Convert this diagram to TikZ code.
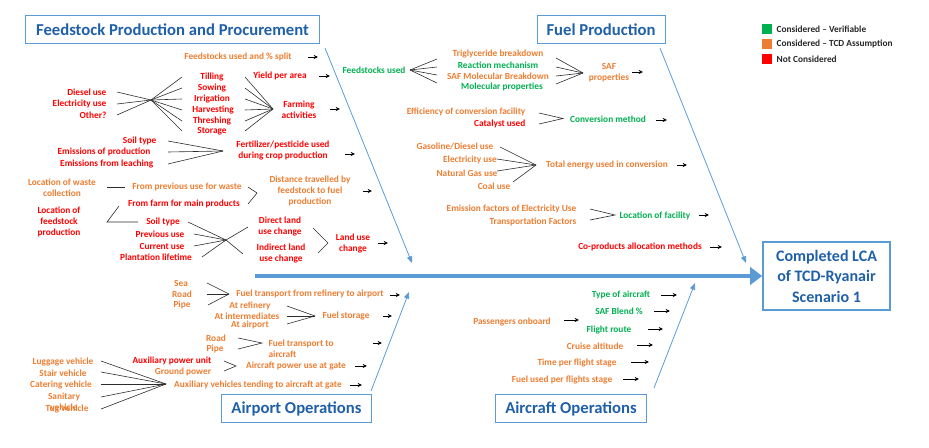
\documentclass[tikz,border=0pt]{standalone}
\usepackage{fontspec}
\setmainfont{Carlito}
\usetikzlibrary{arrows.meta}
\definecolor{cGreen}{RGB}{0,176,80}
\definecolor{cOrange}{RGB}{237,125,49}
\definecolor{cRed}{RGB}{255,0,0}
\definecolor{cTitle}{RGB}{31,96,168}
\definecolor{cFrame}{RGB}{91,155,213}
\definecolor{cFan}{RGB}{45,45,45}
\definecolor{cLegend}{RGB}{38,38,38}
\begin{document}
\begin{tikzpicture}[x=0.75pt,y=-0.75pt,
  lab/.style={font=\fontsize{7}{8.3}\selectfont\bfseries, align=center, inner sep=1pt},
  og/.style={lab,text=cOrange},
  gn/.style={lab,text=cGreen},
  rd/.style={lab,text=cRed},
  titlebox/.style={draw=cFrame, line width=0.7pt, text=cTitle, inner sep=0pt,
    font=\fontsize{12.5}{14}\selectfont\bfseries, minimum height=20.5pt},
  fan/.style={draw=cFan, line width=0.45pt},
  oarrow/.style={draw=black, line width=0.6pt, -{Stealth[length=3.2pt,width=3pt]}},
  bone/.style={draw=cFrame, line width=0.6pt, -{Triangle[length=5pt,width=4pt]}},
  spine/.style={draw=cFrame, line width=3pt, -{Triangle[length=9pt,width=13pt]}},
  legsq/.style={minimum size=7.5pt, inner sep=0pt}
]
\useasboundingbox (0,0) rectangle (929,447);

% ---------- category boxes ----------
\node[titlebox, minimum width=221pt] (tFeed) at (172.5,29.5) {Feedstock Production and Procurement};
\node[titlebox, minimum width=96pt] (tFuel) at (601,29.5) {Fuel Production};
\node[titlebox, minimum width=113pt, minimum height=21pt] (tAirport) at (296.5,408.5) {Airport Operations};
\node[titlebox, minimum width=113pt, minimum height=21pt] (tAircraft) at (571,408.5) {Aircraft Operations};
\node[draw=cFrame, line width=1.5pt, text=cTitle, align=center, inner sep=0pt,
  minimum width=95pt, minimum height=51pt,
  font=\fontsize{12}{15.4}\selectfont\bfseries] (lca) at (826.5,276) {Completed LCA\\of TCD-Ryanair\\Scenario 1};

% ---------- legend ----------
\node[legsq, fill=cGreen] (lg1) at (767,29) {};
\node[legsq, fill=cOrange] (lg2) at (767,44) {};
\node[legsq, fill=cRed] (lg3) at (767,59) {};
\node[lab, text=cLegend, anchor=west] (lt1) at (775,29) {Considered -- Verifiable};
\node[lab, text=cLegend, anchor=west] (lt2) at (775,44) {Considered -- TCD Assumption};
\node[lab, text=cLegend, anchor=west] (lt3) at (775,59) {Not Considered};

% ---------- bones ----------
\coordinate (b1s) at (325,48);  \coordinate (b1e) at (412,263);
\coordinate (b2s) at (660,48);  \coordinate (b2e) at (746,263);
\coordinate (b3s) at (371,391); \coordinate (b3e) at (409,292);
\coordinate (b4s) at (654,388); \coordinate (b4e) at (695,283);
\draw[bone] (b1s) -- (b1e);
\draw[bone] (b2s) -- (b2e);
\draw[bone] (b3s) -- (b3e);
\draw[bone] (b4s) -- (b4e);
\coordinate (spineStart) at (255,276);
\draw[spine] (spineStart) -- (lca.west);

% ---------- feedstock production and procurement ----------
\node[og] (feedsplit) at (238,57) {Feedstocks used and \% split};
\node[rd] (yield) at (280,76) {Yield per area};
\node[rd, anchor=east] (diesel) at (108,92) {Diesel use};
\node[rd, anchor=east] (elec) at (108,104) {Electricity use};
\node[rd, anchor=east] (other) at (108,115) {Other?};
\node[rd] (tilling) at (212,77) {Tilling};
\node[rd] (sowing) at (212,88) {Sowing};
\node[rd] (irrig) at (212,99) {Irrigation};
\node[rd] (harvest) at (213,110) {Harvesting};
\node[rd] (thresh) at (212,121) {Threshing};
\node[rd] (storage) at (212,131) {Storage};
\node[rd] (farming) at (299,109.5) {Farming\\activities};

\coordinate (hubA) at (151,100);
\coordinate (hubB) at (273,109);
\foreach \n in {diesel,elec,other} \draw[fan] (117,0 |- \n) -- (hubA);
\foreach \n in {tilling,sowing,irrig,harvest,thresh,storage}{
  \draw[fan] (hubA) -- (182,0 |- \n);
  \draw[fan] (245,0 |- \n) -- (hubB);
}

\node[rd, anchor=east] (soil1) at (158,141) {Soil type};
\node[rd, anchor=east] (emprod) at (152,152) {Emissions of production};
\node[rd, anchor=east] (emleach) at (155,164) {Emissions from leaching};
\node[rd] (fert) at (283,150.5) {Fertilizer/pesticide used\\during crop production};
\coordinate (hubC) at (223,151);
\foreach \n in {soil1,emprod,emleach} \draw[fan] (168,0 |- \n) -- (hubC);

\node[og] (wastecol) at (62,188) {Location of waste\\collection};
\node[og] (prevwaste) at (187,187) {From previous use for waste};
\node[rd] (farmmain) at (184,204) {From farm for main products};
\node[rd] (locfeed) at (59,222) {Location of\\feedstock\\production};
\node[og] (distance) at (310,191) {Distance travelled by\\feedstock to fuel\\production};
\draw[fan] (107,0 |- prevwaste) -- (125,0 |- prevwaste);
\coordinate (lfTop) at (119,206);
\coordinate (lfCorner) at (107,222);
\coordinate (tipD) at (257,193);
\draw[fan] (248,0 |- prevwaste) -- (tipD) -- (248,0 |- farmmain);

\node[rd] (soil2) at (163,222) {Soil type};
\node[rd] (prevuse) at (160,234) {Previous use};
\node[rd] (curuse) at (162,246) {Current use};
\node[rd] (plant) at (156,257) {Plantation lifetime};
\draw[fan] (lfTop) -- (lfCorner) -- (138,0 |- soil2);
\node[rd] (direct) at (280,226.5) {Direct land\\use change};
\node[rd] (indirect) at (281,253.5) {Indirect land\\use change};
\node[rd] (landuse) at (353,243.5) {Land use\\change};
\coordinate (hubE) at (226,240);
\coordinate (xUp) at (248,227);
\coordinate (xDown) at (243,254);
\draw[fan] (188,0 |- soil2) -- (hubE) -- (xDown);
\draw[fan] (202,0 |- plant) -- (hubE) -- (xUp);
\foreach \n in {prevuse,curuse} \draw[fan] (194,0 |- \n) -- (hubE);
\coordinate (tipL) at (328,243);
\coordinate (luTop) at (313,228);
\coordinate (luBot) at (318,253);
\draw[fan] (luTop) -- (tipL) -- (luBot);

% ---------- fuel production ----------
\node[gn] (fsused) at (374,70) {Feedstocks used};
\node[og] (trig) at (498,54) {Triglyceride breakdown};
\node[gn] (reac) at (498,65) {Reaction mechanism};
\node[og] (safmol) at (498,76) {SAF Molecular Breakdown};
\node[gn] (molprop) at (502,87) {Molecular properties};
\node[og] (safprop) at (609,73) {SAF\\properties};
\coordinate (hubF) at (410,70);
\coordinate (hubG) at (583,73);
\foreach \y in {59,67,75,83} \draw[fan] (hubF) -- (437,\y);
\foreach \y in {58,67,76,84} \draw[fan] (556,\y) -- (hubG);

\node[og, anchor=east] (eff) at (527,112) {Efficiency of conversion facility};
\node[rd, anchor=east] (cat) at (527,124) {Catalyst used};
\node[gn] (convm) at (608,119) {Conversion method};
\coordinate (tipC) at (563,118.5);
\draw[fan] (539,113) -- (tipC) -- (539,124);

\node[og] (gasd) at (455,146) {Gasoline/Diesel use};
\node[og] (elecu) at (470,160) {Electricity use};
\node[og] (natgas) at (467,173) {Natural Gas use};
\node[og] (coal) at (494,186) {Coal use};
\node[og] (toten) at (607,165) {Total energy used in conversion};
\coordinate (hubT) at (536,165);
\draw[fan] (500,147) -- (hubT);
\draw[fan] (497,159) -- (hubT);
\draw[fan] (497,171) -- (hubT);
\draw[fan] (513,182) -- (hubT);

\node[og, anchor=east] (emf) at (578,209) {Emission factors of Electricity Use};
\node[og, anchor=east] (transf) at (578,222) {Transportation Factors};
\node[gn] (locfac) at (655,216) {Location of facility};
\coordinate (tipF) at (615,215);
\draw[fan] (590,209) -- (tipF) -- (590,220);
\node[rd] (coprod) at (640,247) {Co-products allocation methods};

% ---------- airport operations ----------
\node[og] (sea) at (181,283) {Sea};
\node[og] (road1) at (182,294) {Road};
\node[og] (pipe1) at (182,305) {Pipe};
\node[og] (ftref) at (310,294) {Fuel transport from refinery to airport};
\coordinate (tipS) at (229,294);
\draw[fan] (207,283) -- (tipS);
\draw[fan] (207,294) -- (tipS);
\draw[fan] (208,305) -- (tipS);

\node[og] (atref) at (250,306) {At refinery};
\node[og] (atint) at (247,316) {At intermediates};
\node[og] (atair) at (250,325) {At airport};
\node[og] (fstor) at (346,316) {Fuel storage};
\coordinate (tipSt) at (315,316);
\draw[fan] (287,306) -- (tipSt);
\draw[fan] (287,316) -- (tipSt);
\draw[fan] (287,324) -- (tipSt);

\node[og] (road2) at (216,338) {Road};
\node[og] (pipe2) at (215,349) {Pipe};
\node[og, anchor=west, align=left] (ftair) at (267,348.5) {Fuel transport to\\aircraft};
\coordinate (tipR) at (262,343);
\draw[fan] (238,338) -- (tipR) -- (238,349);

\node[rd] (apu) at (172,361) {Auxiliary power unit};
\node[og] (gpow) at (183,372) {Ground power};
\node[og] (apug) at (296,366) {Aircraft power use at gate};
\coordinate (tipP) at (236,366);
\draw[fan] (224,361) -- (tipP) -- (224,371);

\node[og] (lugg) at (63,362) {Luggage vehicle};
\node[og] (stair) at (63,373) {Stair vehicle};
\node[og] (cater) at (61,385) {Catering vehicle};
\node[og] (sanit) at (64,402) {Sanitary\\vehicle};
\node[og] (tug) at (67,409) {Tug vehicle};
\node[og] (auxv) at (258,385) {Auxiliary vehicles tending to aircraft at gate};
\coordinate (hubV) at (166,384);
\draw[fan] (101,361) -- (hubV);
\draw[fan] (101,372) -- (hubV);
\draw[fan] (101,384) -- (hubV);
\draw[fan] (101,397) -- (hubV);
\draw[fan] (101,409) -- (hubV);

% ---------- aircraft operations ----------
\node[gn] (typeac) at (621,295) {Type of aircraft};
\node[gn] (safblend) at (619,311) {SAF Blend \%};
\node[og] (pax) at (512,322) {Passengers onboard};
\node[gn] (route) at (609,330) {Flight route};
\node[og] (cruise) at (595,346) {Cruise altitude};
\node[og] (timefs) at (577,363) {Time per flight stage};
\node[og] (fuelfs) at (562,380) {Fuel used per flights stage};

% ---------- outputs feeding the bones ----------
\foreach \nm/\x/\y/\l in {
  feedsplit/308/57/10, yield/319/76/11, farming/330/109/10, fert/345/154/10,
  distance/363/191/9, landuse/378/243/10,
  safprop/632/72/11, convm/656/120/11, toten/677/165/10, locfac/699/215/10,
  coprod/710/247/12,
  ftref/390/295/10, fstor/383/316/9, ftair/373/343/9, apug/355/366/12,
  auxv/350/385/12,
  typeac/661/295/16, safblend/654/311/16, pax/564/320/15, route/648/329/15,
  cruise/637/345/16, timefs/631/362/18, fuelfs/623/379/16}{
  \coordinate (out-\nm) at (\x,\y);
  \draw[oarrow] (out-\nm) -- ++(\l,0);
}
\end{tikzpicture}
\end{document}
